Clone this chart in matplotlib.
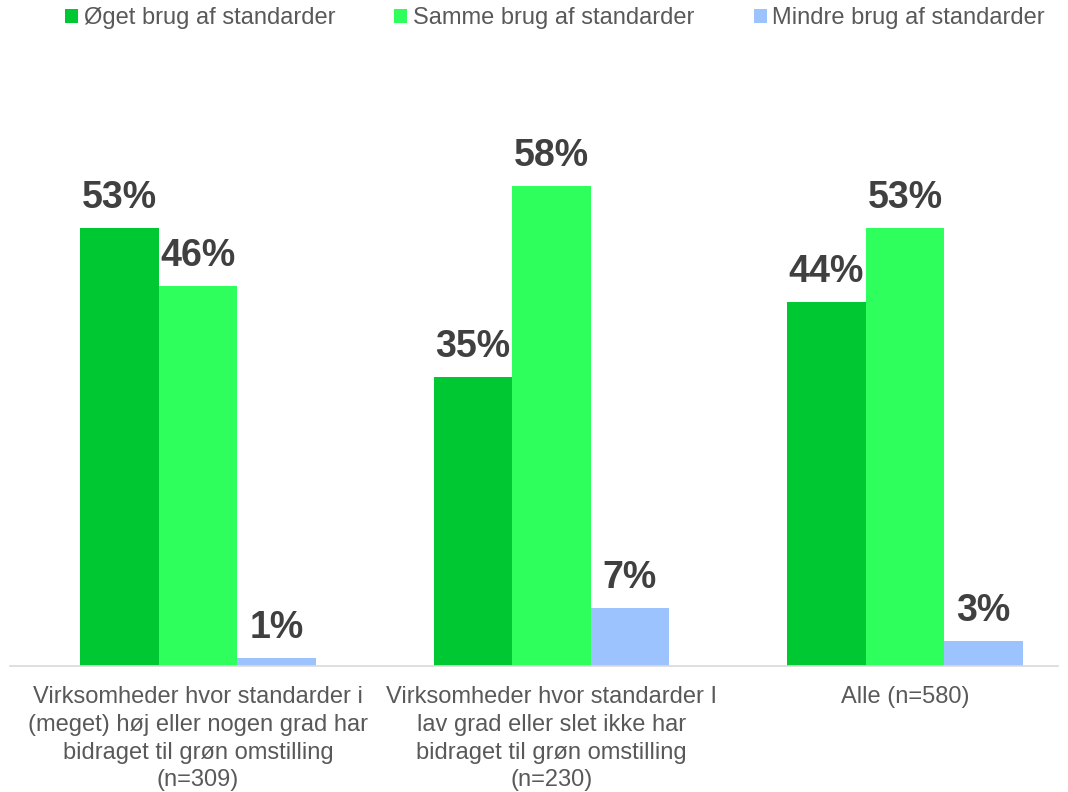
import matplotlib
matplotlib.use("Agg")
import matplotlib.pyplot as plt
import numpy as np
from matplotlib.patches import Patch

plt.rcParams['font.family'] = ['Liberation Sans', 'DejaVu Sans']

categories = [
    "Virksomheder hvor standarder i\n(meget) høj eller nogen grad har\nbidraget til grøn omstilling\n(n=309)",
    "Virksomheder hvor standarder I\nlav grad eller slet ikke har\nbidraget til grøn omstilling\n(n=230)",
    "Alle (n=580)",
]
series_names = ["Øget brug af standarder", "Samme brug af standarder", "Mindre brug af standarder"]
oget = [53, 35, 44]
samme = [46, 58, 53]
mindre = [1, 7, 3]
colors = ["#00C832", "#2EFF5C", "#9DC3FF"]

W, H = 1068, 792
fig = plt.figure(figsize=(W / 100, H / 100), dpi=100)
left_px, right_px = 10, 1058
base_px = 666
ppu = 8.27
ymax = 65
top_px = base_px - ymax * ppu
ax = fig.add_axes([left_px / W, 1 - base_px / H, (right_px - left_px) / W, (base_px - top_px) / H])

x = np.arange(len(categories))
bw = 0.222
series = [oget, samme, mindre]
for i, (vals, col) in enumerate(zip(series, colors)):
    pos = x + (i - 1) * bw
    ax.bar(pos, vals, width=bw, color=col, edgecolor='none', zorder=2)
    for p, v in zip(pos, vals):
        ax.text(p, v + 2.4, f"{v}%", ha='center', va='baseline', fontsize=27,
                fontweight='bold', color='#404040')

c0, sp = 198, 353.5
ax.set_xlim((left_px - c0) / sp, (right_px - c0) / sp)
ax.set_ylim(0, ymax)
ax.set_xticks(x)
ax.set_xticklabels(categories, fontsize=17, color='#595959', linespacing=1.34, va='top')
ax.tick_params(axis='x', length=0, pad=14.5)
ax.set_yticks([])
for s in ['top', 'right', 'left']:
    ax.spines[s].set_visible(False)
ax.spines['bottom'].set_color('#D9D9D9')
ax.spines['bottom'].set_linewidth(1.2)

handles = [Patch(facecolor=c, edgecolor='none') for c in colors]
fig.legend(handles, series_names, loc='center', bbox_to_anchor=(555 / W, 1 - 18 / H),
           ncol=3, frameon=False, fontsize=17, labelcolor='#595959',
           handlelength=0.55, handleheight=0.55, handletextpad=0.25, columnspacing=2.5,
           borderpad=0, borderaxespad=0)

fig.savefig("out.png", dpi=100)
